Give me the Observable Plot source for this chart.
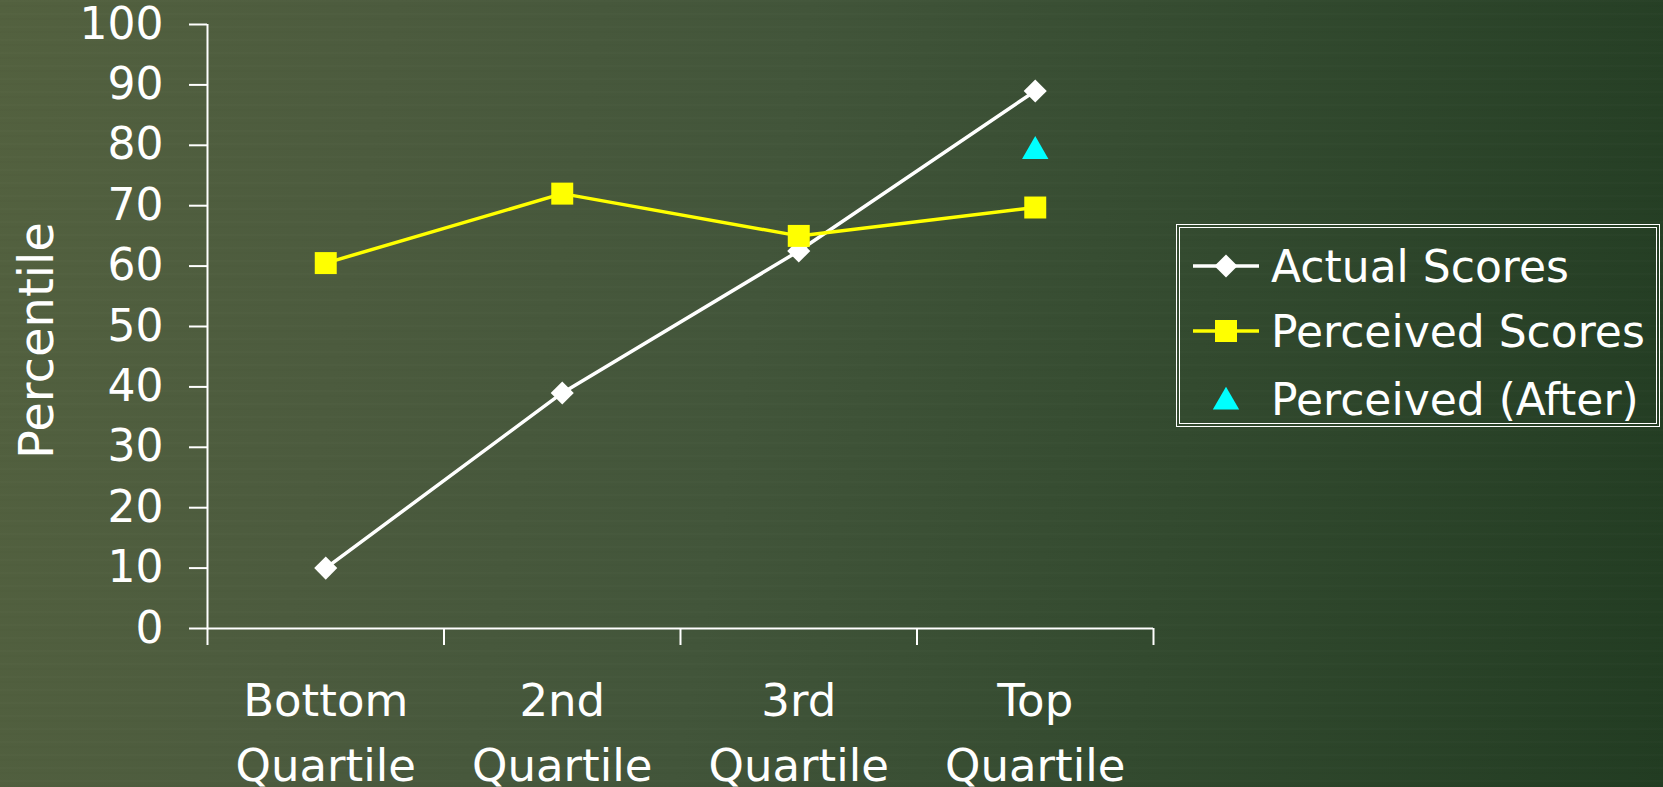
<!DOCTYPE html>
<html>
<head>
<meta charset="utf-8">
<script src="https://cdn.jsdelivr.net/npm/d3@7"></script>
<script src="https://cdn.jsdelivr.net/npm/@observablehq/plot@0.6"></script>
<style>
  html, body { margin: 0; padding: 0; width: 1663px; height: 787px; overflow: hidden; }
  body {
    font-family: "DejaVu Sans", sans-serif;
    background:
      repeating-linear-gradient(180deg, rgba(255,255,255,0.012) 0px, rgba(255,255,255,0.012) 2px, rgba(0,0,0,0) 2px, rgba(0,0,0,0) 5px, rgba(0,0,0,0.015) 5px, rgba(0,0,0,0.015) 7px, rgba(0,0,0,0) 7px, rgba(0,0,0,0) 13px),
      linear-gradient(100deg, #53613f 0%, #4c5b3e 22%, #42553a 45%, #334a2f 70%, #223c22 100%);
  }
  #chart { position: relative; width: 1663px; height: 787px; }
  .legend {
    position: absolute; left: 1176px; top: 224px; width: 484px; height: 203px;
    box-sizing: border-box; border: 4px double #ffffff; color: #ffffff;
  }
  .legend .row {
    position: absolute; left: 11px; height: 66px; display: flex; align-items: center;
    font-size: 44px; white-space: nowrap;
  }
  .legend .row svg { width: 70px; height: 40px; margin-right: 10px; overflow: visible; }
</style>
</head>
<body>
<div id="chart"></div>
<script>
// Quartile groups along the x axis
const quartiles = ["Bottom\nQuartile", "2nd\nQuartile", "3rd\nQuartile", "Top\nQuartile"];
// Percentile values per quartile
const actualScores = [10, 39, 62.5, 89];
const perceivedScores = [60.5, 72, 65, 69.7];
const perceivedAfter = [null, null, null, 79];
// Y axis ticks
const yTicks = [0, 10, 20, 30, 40, 50, 60, 70, 80, 90, 100];
const yTitle = "Percentile";
// Legend entries
const seriesNames = ["Actual Scores", "Perceived Scores", "Perceived (After)"];
const seriesColors = ["#ffffff", "#ffff00", "#00ffff"];

const rows = quartiles.map((q, i) => ({
  pos: i + 0.5,
  label: q,
  actual: actualScores[i],
  perceived: perceivedScores[i],
  after: perceivedAfter[i]
}));
const boundaries = d3.range(quartiles.length + 1);

const chart = Plot.plot({
  width: 1663,
  height: 787,
  marginLeft: 207,
  marginRight: 510,
  marginTop: 24,
  marginBottom: 159,
  style: { background: "transparent", color: "#ffffff", fontFamily: "DejaVu Sans", fontSize: "44px", overflow: "visible" },
  x: { type: "linear", domain: [0, quartiles.length], axis: null },
  y: { domain: [0, 100], axis: null },
  marks: [
    // axes
    Plot.axisY({ ticks: yTicks, tickSize: 18, tickPadding: 26, tickFormat: d => String(d), label: null, strokeWidth: 2, fontSize: 44 }),
    Plot.axisX({ ticks: boundaries, tickSize: 17, tickFormat: () => "", label: null, strokeWidth: 2 }),
    Plot.ruleX([0], { stroke: "#ffffff", strokeWidth: 2 }),
    Plot.ruleY([0], { stroke: "#ffffff", strokeWidth: 2 }),
    Plot.text(rows, { x: "pos", text: "label", frameAnchor: "bottom", lineAnchor: "top", dy: 41, lineHeight: 1.45, fontSize: 45, fill: "#ffffff" }),
    Plot.text([yTitle], { text: d => d, frameAnchor: "left", rotate: -90, dx: -170, dy: 14, fontSize: 48, fill: "#ffffff", textAnchor: "middle", lineAnchor: "middle" }),
    // series
    Plot.line(rows, { x: "pos", y: "actual", stroke: seriesColors[0], strokeWidth: 3.5 }),
    Plot.line(rows, { x: "pos", y: "perceived", stroke: seriesColors[1], strokeWidth: 3.5 }),
    Plot.dot(rows, { x: "pos", y: "actual", symbol: "diamond2", r: 10.4, fill: seriesColors[0], stroke: null }),
    Plot.dot(rows, { x: "pos", y: "perceived", symbol: "square", r: 12.4, fill: seriesColors[1], stroke: null }),
    Plot.dot(rows.filter(d => d.after != null), { x: "pos", y: "after", symbol: "triangle", r: 9.8, fill: seriesColors[2], stroke: null })
  ]
});
document.getElementById("chart").appendChild(chart);

// Legend box on the right of the plot
const legend = document.createElement("div");
legend.className = "legend";
const swatches = [
  { line: true, sym: d3.symbolDiamond2, area: Math.PI * 10.4 * 10.4 },
  { line: true, sym: d3.symbolSquare, area: Math.PI * 12.4 * 12.4 },
  { line: false, sym: d3.symbolTriangle, area: Math.PI * 9.8 * 9.8 }
];
const rowTops = [5, 70, 138];
seriesNames.forEach((name, i) => {
  const row = document.createElement("div");
  row.className = "row";
  row.style.top = rowTops[i] + "px";
  const s = swatches[i];
  const path = d3.symbol(s.sym, s.area)();
  row.innerHTML =
    `<svg viewBox="0 0 70 40">` +
    (s.line ? `<line x1="2" x2="68" y1="20" y2="20" stroke="${seriesColors[i]}" stroke-width="3.5"/>` : "") +
    `<path d="${path}" transform="translate(35,${s.line ? 20 : 23})" fill="${seriesColors[i]}"/></svg>` +
    `<span>${name}</span>`;
  legend.appendChild(row);
});
document.getElementById("chart").appendChild(legend);
</script>
</body>
</html>
